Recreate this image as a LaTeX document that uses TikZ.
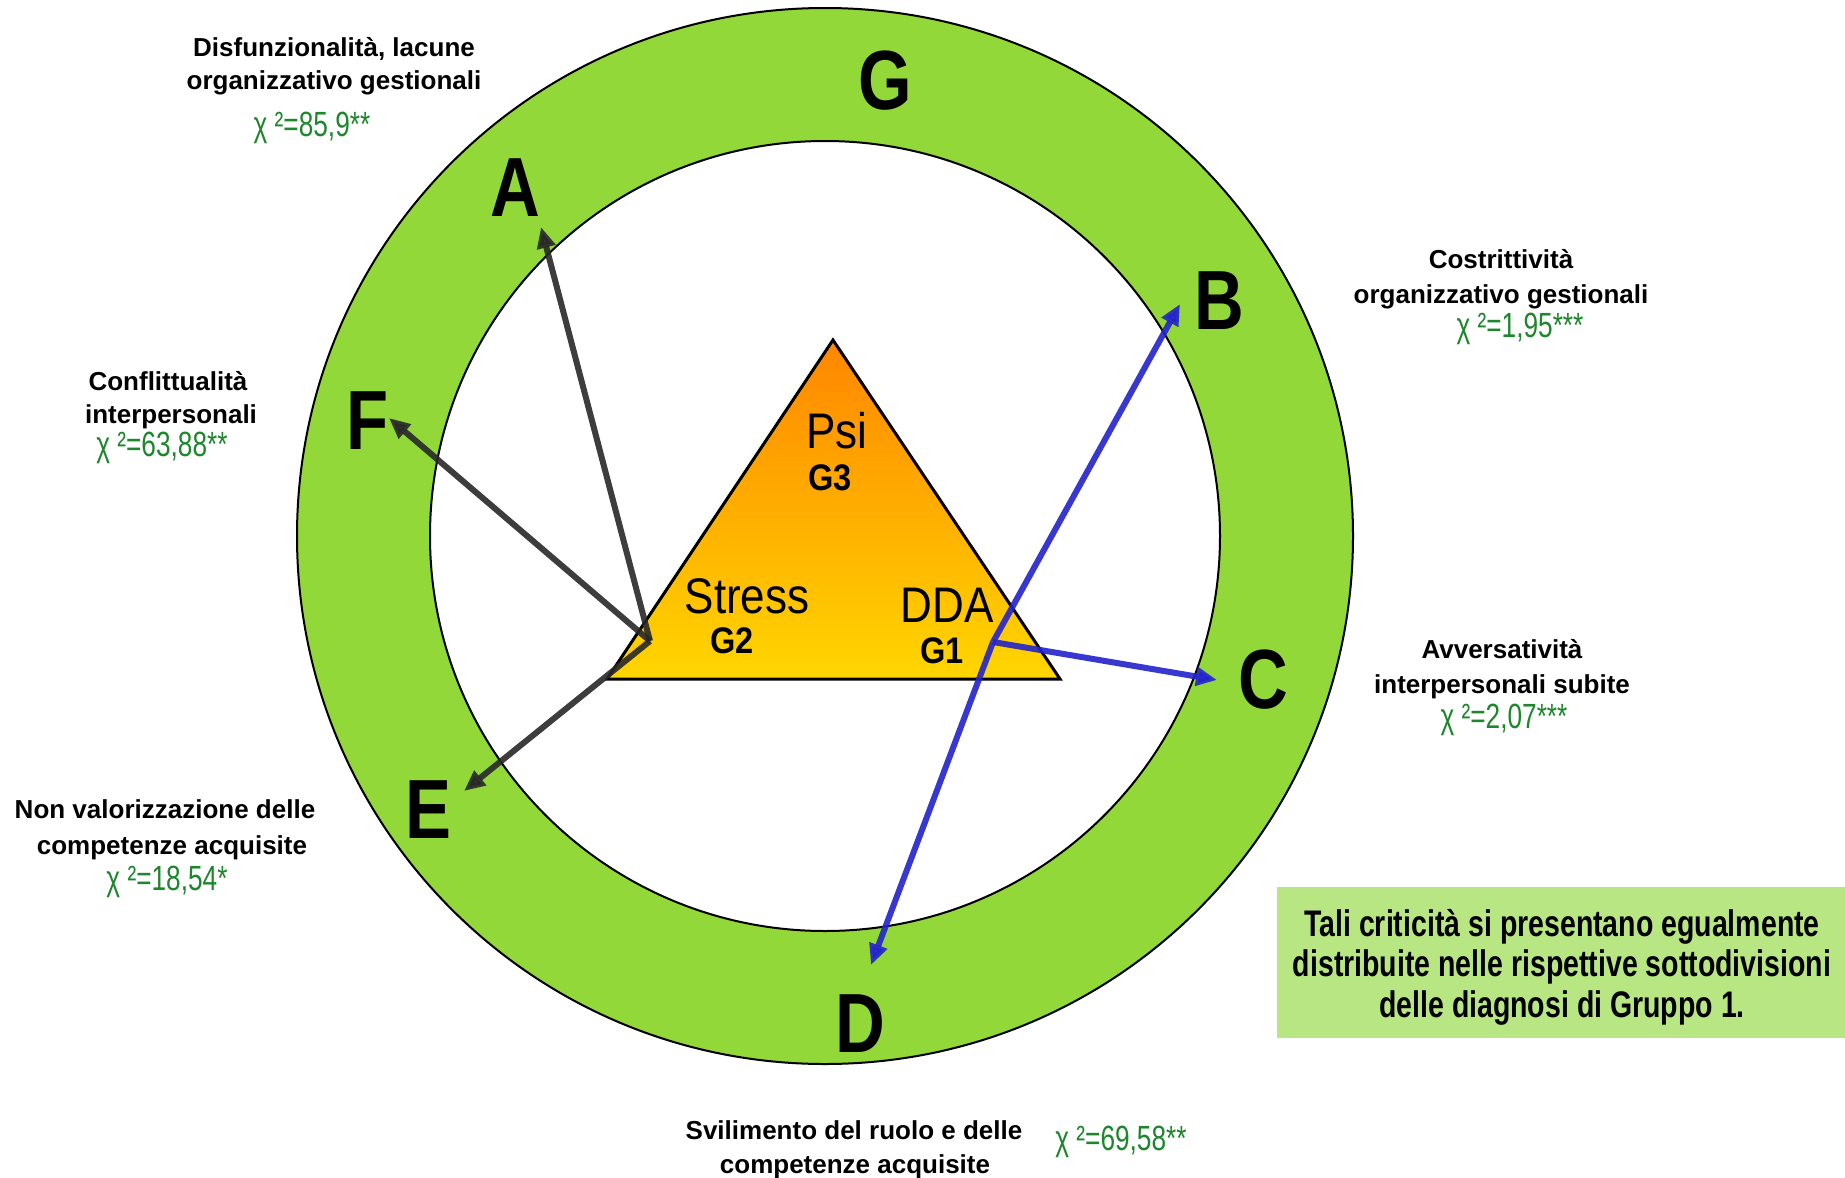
\documentclass[tikz,border=0pt]{standalone}
\usepackage{fontspec}
\setmainfont{Liberation Sans}
\newfontfamily\lblfont[FakeStretch=1.0]{Liberation Sans}
\newfontfamily\chifont[FakeStretch=0.75]{Liberation Sans}
\newfontfamily\letfont[FakeStretch=0.82]{Liberation Sans}
\newfontfamily\trifont[FakeStretch=0.88]{Liberation Sans}
\newfontfamily\boxfont[FakeStretch=0.77]{Liberation Sans}
\usetikzlibrary{arrows.meta}
\definecolor{ringgreen}{RGB}{146,216,56}
\definecolor{boxgreen}{RGB}{184,230,130}
\definecolor{chigreen}{RGB}{30,135,45}
\definecolor{arrblue}{RGB}{35,35,205}
\definecolor{arrdark}{RGB}{40,40,40}
\definecolor{triTop}{RGB}{255,134,0}
\definecolor{triBot}{RGB}{255,214,0}
\begin{document}
\begin{tikzpicture}[x=1pt,y=-1pt,
  lbl/.style={font=\lblfont\bfseries\fontsize{26}{33}\selectfont, anchor=base, inner sep=0pt},
  chi/.style={font=\chifont\fontsize{35}{40}\selectfont, text=chigreen, anchor=base, inner sep=0pt},
  letter/.style={font=\letfont\bfseries\fontsize{84}{90}\selectfont, inner sep=0pt},
  trilbl/.style={font=\trifont\fontsize{50}{55}\selectfont, anchor=base, inner sep=0pt},
  trig/.style={font=\trifont\bfseries\fontsize{37}{40}\selectfont, anchor=base, inner sep=0pt},
  darrow/.style={draw=arrdark, line width=6pt, opacity=0.9, -{Triangle[length=21pt,width=18pt]}},
  barrow/.style={draw=arrblue, line width=6pt, opacity=0.9, -{Triangle[length=21pt,width=18pt]}},
  boxtxt/.style={font=\boxfont\bfseries\fontsize{37}{40.5}\selectfont, align=center, inner sep=0pt}
]
\path[use as bounding box, fill=white] (0,0) rectangle (1845,1178);

% ring
\coordinate (c) at (825,536);
\fill[ringgreen, even odd rule] (c) circle[radius=528] (c) circle[radius=395];
\draw[line width=2pt] (c) circle[radius=528];
\draw[line width=2pt] (c) circle[radius=395];

% triangle
\coordinate (tT) at (833,340);
\coordinate (tL) at (607,679);
\coordinate (tR) at (1060,679);
\path[top color=triTop, bottom color=triBot] (tT) -- (tL) -- (tR) -- cycle;
\draw[line width=3pt, line join=miter] (tT) -- (tL) -- (tR) -- cycle;

\node[trilbl] (psi) at (837,448) {Psi};
\node[trig] (g3) at (830,490) {G3};
\node[trilbl] (stress) at (747,613) {Stress};
\node[trig] (g2) at (732,653) {G2};
\node[trilbl] (dda) at (947,622) {DDA};
\node[trig] (g1) at (942,663) {G1};

% ring letters
\node[letter] (A) at (515,188) {A};
\node[letter] (B) at (1219,301) {B};
\node[letter] (C) at (1263,680) {C};
\node[letter] (D) at (860,1024) {D};
\node[letter] (E) at (428,810) {E};
\node[letter] (F) at (368,421) {F};
\node[letter] (G) at (885,81) {G};

% arrows
\coordinate (sDark) at (650,641);
\coordinate (sBlue) at (993,642);
\coordinate (tipA) at (541,227);
\coordinate (tipF) at (389,418);
\coordinate (tipE) at (464,791);
\coordinate (tipB) at (1180,304);
\coordinate (tipC) at (1217,680);
\coordinate (tipD) at (871,965);
\draw[darrow] (sDark) -- (tipA);
\draw[darrow] (sDark) -- (tipF);
\draw[darrow] (sDark) -- (tipE);
\draw[barrow] (sBlue) -- (tipB);
\draw[barrow] (sBlue) -- (tipC);
\draw[barrow] (sBlue) -- (tipD);

% labels
\node[lbl] (labA1) at (334,56) {Disfunzionalità, lacune};
\node[lbl] (labA2) at (334,89) {organizzativo gestionali};
\node[chi] (chiA) at (312,136) {χ ²=85,9**};

\node[lbl] (labB1) at (1501,268) {Costrittività};
\node[lbl] (labB2) at (1501,303) {organizzativo gestionali};
\node[chi] (chiB) at (1520,337) {χ ²=1,95***};

\node[lbl] (labC1) at (1502,658) {Avversatività};
\node[lbl] (labC2) at (1502,693) {interpersonali subite};
\node[chi] (chiC) at (1504,728) {χ ²=2,07***};

\node[lbl] (labD1) at (854,1139) {Svilimento del ruolo e delle};
\node[lbl] (labD2) at (855,1173) {competenze acquisite};
\node[chi] (chiD) at (1121,1150) {χ ²=69,58**};

\node[lbl] (labE1) at (165,818) {Non valorizzazione delle};
\node[lbl] (labE2) at (172,854) {competenze acquisite};
\node[chi] (chiE) at (167,890) {χ ²=18,54*};

\node[lbl] (labF1) at (168,390) {Conflittualità};
\node[lbl] (labF2) at (171,423) {interpersonali};
\node[chi] (chiF) at (162,456) {χ ²=63,88**};

% note box
\fill[boxgreen] (1277,887) rectangle (1845,1038);
\node[boxtxt] (note) at (1562,967) {Tali criticità si presentano egualmente\\distribuite nelle rispettive sottodivisioni\\delle diagnosi di Gruppo 1.};
\end{tikzpicture}
\end{document}
